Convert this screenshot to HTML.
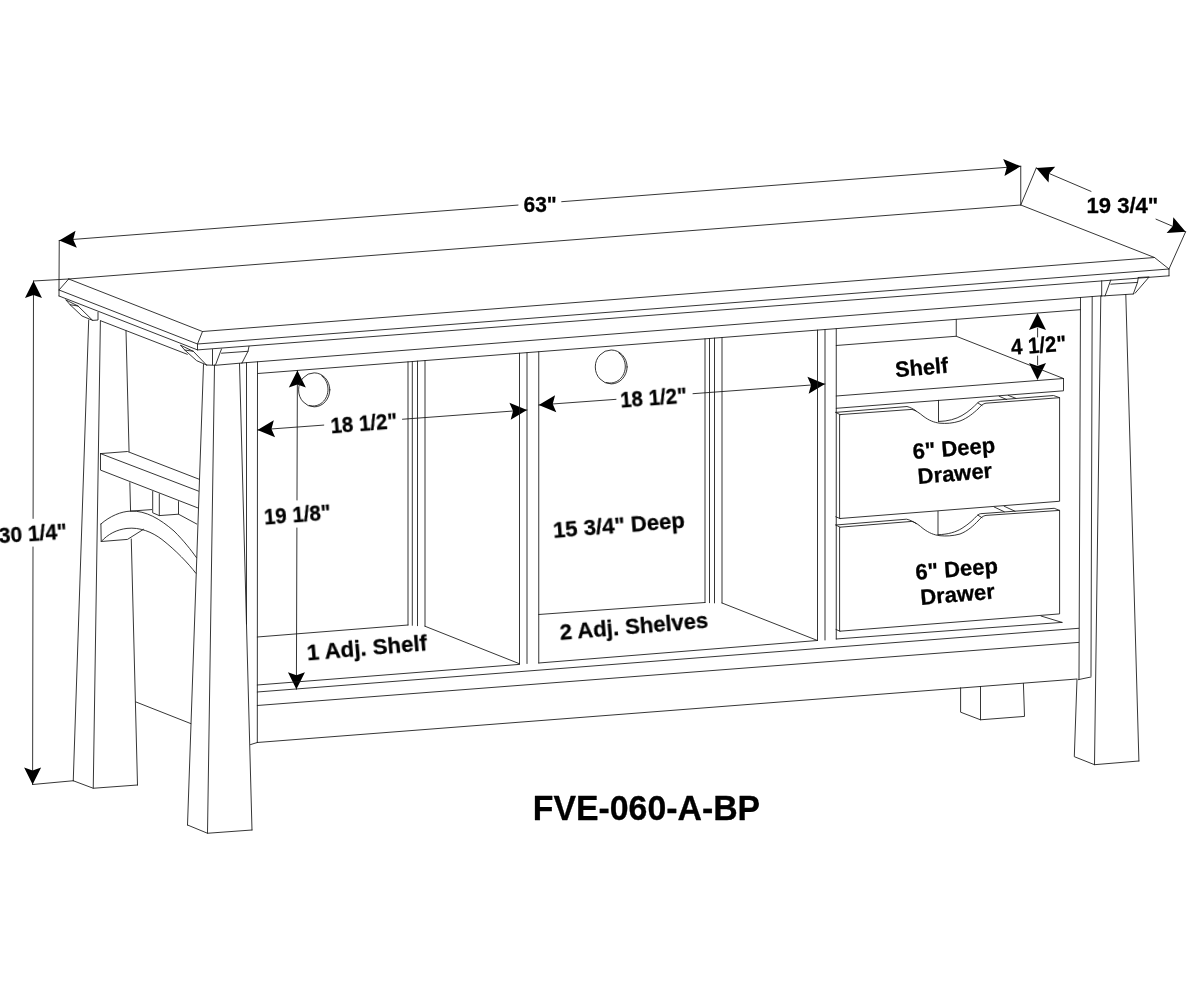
<!DOCTYPE html>
<html><head><meta charset="utf-8"><title>FVE-060-A-BP</title>
<style>
html,body{margin:0;padding:0;background:#fff;}
body{width:1200px;height:1000px;overflow:hidden;font-family:"Liberation Sans",sans-serif;}
svg{display:block;}
svg path,svg ellipse{fill:none;stroke:#1a1a1a;stroke-width:0.88;stroke-linecap:round;stroke-linejoin:round;}
svg .ah{fill:#000;stroke:none;}
svg text{font-family:"Liberation Sans",sans-serif;font-weight:bold;fill:#000;stroke:#000;stroke-width:0.3;stroke-linejoin:round;}
</style></head>
<body>
<svg width="1200" height="1000" viewBox="0 0 1200 1000">
<rect x="0" y="0" width="1200" height="1000" fill="#fff"/>
<path d="M68.70 279.00 L1020.75 205.00 L1154.50 257.50 L202.50 331.50 L68.70 279.00"/>
<path d="M68.70 279.00 L59.00 290.00 L59.00 296.00"/>
<path d="M202.50 331.50 L197.50 344.00 L197.50 349.90"/>
<path d="M1154.50 257.50 L1169.00 269.00 L1169.00 275.80"/>
<path d="M59.00 290.00 L197.50 344.00 L1169.00 269.00"/>
<path d="M59.00 296.00 L197.50 349.90 L1169.00 275.80"/>
<path d="M242.00 363.00 L1101.70 295.80"/>
<path d="M258.00 373.50 L1080.50 309.70"/>
<path d="M59.25 240.50 L518.00 205.07"/>
<path d="M561.70 201.70 L1020.75 166.25"/>
<polygon class="ah" points="59.25,240.50 75.55,230.72 73.21,239.42 76.85,247.67"/>
<polygon class="ah" points="1020.75,166.25 1004.45,176.03 1006.79,167.33 1003.15,159.08"/>
<path d="M59.25 240.50 L59.00 290.00"/>
<path d="M1020.75 166.25 L1020.75 205.00"/>
<path d="M33.50 281.00 L33.10 518.40"/>
<path d="M33.00 547.00 L32.60 784.50"/>
<polygon class="ah" points="33.50,281.00 41.97,298.02 33.47,295.00 24.97,297.98"/>
<polygon class="ah" points="32.60,784.50 24.13,767.48 32.63,770.50 41.13,767.52"/>
<path d="M33.50 281.00 L68.70 279.00"/>
<path d="M32.60 784.50 L73.25 780.75"/>
<path d="M1036.25 168.00 L1091.00 191.39"/>
<path d="M1156.00 219.16 L1185.60 231.80"/>
<polygon class="ah" points="1036.25,168.00 1055.22,166.86 1049.12,173.50 1048.54,182.49"/>
<polygon class="ah" points="1185.60,231.80 1166.63,232.94 1172.73,226.30 1173.31,217.31"/>
<path d="M1020.75 205.00 L1036.25 168.00"/>
<path d="M1185.60 231.80 L1169.00 269.00"/>
<path d="M257.50 430.00 L323.75 425.08"/>
<path d="M402.50 419.24 L527.00 410.00"/>
<polygon class="ah" points="257.50,430.00 273.82,420.27 271.46,428.96 275.08,437.22"/>
<polygon class="ah" points="527.00,410.00 510.68,419.73 513.04,411.04 509.42,402.78"/>
<path d="M538.75 405.00 L616.00 399.33"/>
<path d="M693.00 393.68 L825.00 384.00"/>
<polygon class="ah" points="538.75,405.00 555.08,395.28 552.71,403.98 556.33,412.23"/>
<polygon class="ah" points="825.00,384.00 808.67,393.72 811.04,385.02 807.42,376.77"/>
<path d="M297.40 370.50 L297.00 500.00"/>
<path d="M296.90 528.00 L296.40 689.30"/>
<polygon class="ah" points="297.40,370.50 305.85,387.53 297.36,384.50 288.85,387.47"/>
<polygon class="ah" points="296.40,689.30 287.95,672.27 296.44,675.30 304.95,672.33"/>
<polygon class="ah" points="1037.50,313.00 1046.00,330.00 1037.50,327.00 1029.00,330.00"/>
<polygon class="ah" points="1037.50,380.00 1029.00,363.00 1037.50,366.00 1046.00,363.00"/>
<path d="M1037.60 328.00 L1037.60 337.00" stroke-width="0.7" stroke="#aaa"/>
<path d="M1037.60 356.00 L1037.60 365.00" stroke-width="0.7" stroke="#aaa"/>
<path d="M100.50 320.70 L187.30 354.30"/>
<path d="M66.00 300.00 L70.00 304.70 L82.00 316.00 L92.70 320.40 L98.00 320.00 L98.00 312.40"/>
<path d="M66.00 300.00 L78.00 306.00 L92.70 320.40"/>
<path d="M70.00 304.70 L78.00 306.00"/>
<path d="M180.70 345.30 L184.70 350.00 L196.70 360.70 L206.50 365.00"/>
<path d="M180.70 345.30 L193.30 351.30 L206.50 365.00"/>
<path d="M184.70 350.00 L193.30 351.30"/>
<path d="M212.50 349.50 L212.50 364.70"/>
<path d="M221.50 349.00 L215.50 365.00"/>
<path d="M221.50 353.20 L248.00 351.30"/>
<path d="M249.00 346.30 L248.00 351.30 L242.00 363.00"/>
<path d="M206.50 365.00 L215.50 365.30 L242.00 363.00"/>
<path d="M1101.70 280.80 L1101.70 296.00"/>
<path d="M1110.80 280.00 L1105.00 296.00"/>
<path d="M1110.80 284.20 L1137.50 282.40"/>
<path d="M1138.30 277.50 L1137.50 282.40 L1133.30 294.00"/>
<path d="M1101.70 296.00 L1133.30 294.00"/>
<path d="M1138.30 277.50 L1149.20 276.90 L1135.00 293.30"/>
<path d="M88.70 320.00 L73.25 780.75"/>
<path d="M100.40 321.00 L93.25 788.25"/>
<path d="M126.00 330.70 L129.06 451.50"/>
<path d="M129.85 482.70 L130.57 511.10"/>
<path d="M131.27 539.00 L137.50 785.00"/>
<path d="M73.25 780.75 L93.25 788.25 L137.50 785.00"/>
<path d="M203.50 364.50 L187.50 825.00"/>
<path d="M214.50 365.00 L207.50 833.25"/>
<path d="M239.50 363.50 L252.00 830.00"/>
<path d="M187.50 825.00 L207.50 833.25 L252.00 830.00"/>
<path d="M246.50 362.60 L246.50 624.00"/>
<path d="M257.50 361.80 L257.30 742.50"/>
<path d="M250.50 744.60 L257.30 742.50"/>
<path d="M136.00 702.00 L190.80 723.60"/>
<path d="M100.50 453.60 L127.50 451.50 L199.00 479.20"/>
<path d="M100.50 453.60 L198.50 491.10"/>
<path d="M100.50 453.60 L100.50 470.10 L197.80 507.90"/>
<path d="M152.70 491.50 L152.70 512.80 L159.30 515.60 L178.50 514.20 L178.50 501.60"/>
<path d="M159.30 493.90 L159.30 515.60"/>
<path d="M178.50 514.20 L196.70 524.00"/>
<path d="M130.60 511.10 L151.60 509.60"/>
<path d="M100.9 524 C110 516,121 511.5,130.6 511.1 C146 510.5,160 519,174 531 C184 541,191 550,196.4 557.6"/>
<path d="M101.2 541.5 C108 534,117 529.5,127 528.4 C140 527,152 532,162 539.5 C176 550.5,188 563,195.8 573.2"/>
<path d="M100.90 524.00 L101.20 541.50 L127.50 539.40 L143.50 529.30"/>
<path d="M408.00 361.86 L408.00 625.00" stroke-width="0.9"/>
<path d="M412.30 361.53 L412.30 625.30" stroke-width="0.9"/>
<path d="M417.50 361.13 L417.50 625.70" stroke-width="0.9"/>
<path d="M425.00 360.55 L425.00 626.25" stroke-width="0.9"/>
<path d="M519.50 353.22 L519.50 663.75"/>
<path d="M527.00 352.63 L527.00 663.50"/>
<path d="M538.75 351.72 L538.75 663.00"/>
<path d="M705.00 338.83 L705.00 602.50" stroke-width="0.9"/>
<path d="M709.50 338.48 L709.50 602.70" stroke-width="0.9"/>
<path d="M714.50 338.09 L714.50 602.90" stroke-width="0.9"/>
<path d="M722.00 337.51 L722.00 603.00" stroke-width="0.9"/>
<path d="M817.50 330.10 L817.50 640.50"/>
<path d="M825.00 329.52 L825.00 640.00"/>
<path d="M836.25 328.65 L836.25 639.00"/>
<path d="M257.30 637.00 L408.00 625.00"/>
<path d="M538.75 614.50 L705.00 602.50"/>
<path d="M425.00 626.25 L519.50 663.75"/>
<path d="M722.00 603.00 L817.50 640.50"/>
<path d="M257.30 685.00 L519.50 664.40"/>
<path d="M538.75 663.00 L817.50 640.50"/>
<path d="M836.25 639.00 L1062.00 622.40"/>
<path d="M257.30 692.00 L1078.70 628.30"/>
<path d="M257.30 705.50 L1078.70 642.40"/>
<path d="M257.30 742.50 L1077.00 679.00"/>
<ellipse cx="314.2" cy="389.85" rx="15.6" ry="17"/>
<path d="M321.65 375.80 L323.01 377.00 L324.23 378.36 L325.31 379.88 L326.22 381.52 L326.95 383.27 L327.49 385.10 L327.84 386.99 L327.99 388.92 L327.94 390.85 L327.69 392.76 L327.24 394.62 L326.60 396.42 L325.78 398.11 L324.79 399.70 L323.64 401.14 L322.34 402.42 L320.92 403.53 L319.40 404.44 L317.79 405.16 L316.11 405.66 L314.40 405.94 L312.67 405.99 L310.94 405.82 L309.24 405.43"/>
<ellipse cx="611.2" cy="366.95" rx="15.9" ry="16.95"/>
<path d="M618.82 352.94 L620.20 354.14 L621.45 355.50 L622.55 357.01 L623.48 358.65 L624.23 360.39 L624.78 362.22 L625.14 364.10 L625.29 366.02 L625.24 367.94 L624.99 369.85 L624.53 371.71 L623.88 373.49 L623.04 375.19 L622.02 376.76 L620.85 378.20 L619.53 379.48 L618.08 380.59 L616.52 381.50 L614.88 382.21 L613.17 382.71 L611.42 382.99 L609.66 383.04 L607.90 382.88 L606.17 382.49"/>
<path d="M956.25 319.34 L956.25 336.25"/>
<path d="M836.25 345.50 L956.25 336.25 L1063.50 378.50 L836.25 396.00"/>
<path d="M1063.50 378.50 L1063.50 390.80 L836.25 408.30"/>
<path d="M840 414.6 L912 409.4 C916 410.5,920 413.5,923 416 C929 420.5,934 422.5,940 423.2 C946 423.8,953 423.3,960 421 C968 418,974 412.5,978 409 C981 405.5,983 403.6,986 403.2 L1059.6 397.7 L1059.6 501.25 L840 518.5 Z"/>
<path d="M835.8 412.4 L907 406.5 C910 407.3,913 408.7,916 410.8"/>
<path d="M938.5 421.5 C948 421.3,956 419,962 415.5 C969 411.5,974 406.5,977 403.5 C978.5 402,979.5 401.5,980.5 401.3 L1053.5 395.5 L1059.6 397.7"/>
<path d="M978.00 403.00 L982.00 405.50"/>
<path d="M938.50 400.30 L938.50 421.50"/>
<path d="M999.20 396.25 L1006.70 399.60"/>
<path d="M1008.30 395.40 L1015.80 398.30"/>
<path d="M835.80 412.40 L840.00 414.60"/>
<path d="M835.80 516.80 L840.00 518.50"/>
<path d="M840 527.2 L912 521.4 C916 522.5,920 526,923 528.5 C929 533,934 535,940 535.7 C946 536.3,953 536,960 534 C968 531,974 525,978 521 C981 517.5,983 515.8,986 515.4 L1059.6 510.4 L1059.6 613.9 L840 631.2 Z"/>
<path d="M835.8 525 L906.5 519.2 C910 520,913 521.3,916 523.5"/>
<path d="M938 534.7 C948 534.5,956 532,962 528.3 C969 524,974 519,977 515.7 C978.5 514.3,979.5 513.9,980.5 513.7 L1054.2 508.3 L1059.6 510.4"/>
<path d="M978.00 515.20 L982.00 517.70"/>
<path d="M938.00 511.40 L938.00 534.70"/>
<path d="M994.20 507.00 L1004.20 511.70"/>
<path d="M1004.20 506.25 L1015.00 511.25"/>
<path d="M835.80 525.00 L840.00 527.20"/>
<path d="M836.00 629.50 L840.00 631.20"/>
<path d="M1041.00 616.00 L1062.00 622.40"/>
<path d="M1080.50 297.40 L1079.00 679.60"/>
<path d="M1092.20 296.50 L1091.00 676.00"/>
<path d="M1078.50 679.60 L1091.00 677.00"/>
<path d="M1100.80 296.00 L1094.50 764.70"/>
<path d="M1125.80 294.50 L1138.90 761.00"/>
<path d="M1077.00 679.50 L1074.30 756.70 L1094.50 764.70 L1138.90 761.00"/>
<path d="M960.60 687.80 L960.60 712.20 L980.50 719.80 L1024.50 716.40 L1023.40 683.40"/>
<path d="M980.50 686.50 L980.50 719.80"/>
<g opacity="0.999">
<text transform="translate(523.6,212.1) rotate(0) scale(0.93,1)" font-size="22.5">63"</text>
<text transform="translate(1086.5,212.9) rotate(0) scale(0.99,1)" font-size="22.3">19 3/4"</text>
<text transform="translate(-0.8,543.2) rotate(-3.9) scale(0.943,1)" font-size="22.3">30 1/4"</text>
<text transform="translate(331.1,433.3) rotate(-4.5) scale(0.92,1)" font-size="22.3">18 1/2"</text>
<text transform="translate(620.7,407.5) rotate(-4.2) scale(0.92,1)" font-size="22.3">18 1/2"</text>
<text transform="translate(264.5,524.5) rotate(-4.3) scale(0.92,1)" font-size="22.3">19 1/8"</text>
<text transform="translate(1011.4,354.7) rotate(-4) scale(0.92,1)" font-size="22.3">4 1/2"</text>
<text transform="translate(895.7,377.3) rotate(-5) scale(0.99,1)" font-size="22">Shelf</text>
<text transform="translate(913.3,459.0) rotate(-4.6) scale(1.0,1)" font-size="22">6" Deep</text>
<text transform="translate(918.3,484.0) rotate(-4.8) scale(1.0,1)" font-size="22">Drawer</text>
<text transform="translate(916.0,579.7) rotate(-4.6) scale(1.0,1)" font-size="22">6" Deep</text>
<text transform="translate(921.0,604.9) rotate(-4.8) scale(1.0,1)" font-size="22">Drawer</text>
<text transform="translate(553.6,537.8) rotate(-4.4) scale(1.005,1)" font-size="22">15 3/4" Deep</text>
<text transform="translate(307.5,660.3) rotate(-4.8) scale(1.012,1)" font-size="22">1 Adj. Shelf</text>
<text transform="translate(560.4,639.8) rotate(-4.7) scale(1.004,1)" font-size="22">2 Adj. Shelves</text>
<text transform="translate(532.8,820.4) rotate(0) scale(0.986,1)" font-size="34.3">FVE-060-A-BP</text>
</g>
</svg>
</body></html>
